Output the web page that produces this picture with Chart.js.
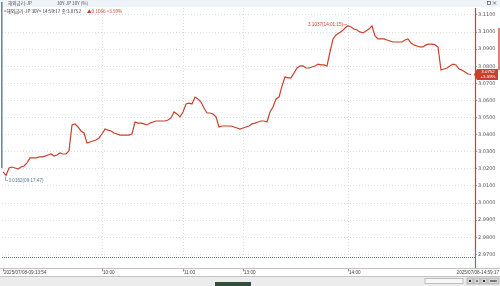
<!DOCTYPE html>
<html>
<head>
<meta charset="utf-8">
<script src="https://cdn.jsdelivr.net/npm/chart.js@4"></script>
<style>
  html, body { margin: 0; padding: 0; background: #fff; }
  #wrap { width: 500px; height: 286px; }
</style>
</head>
<body>
<div id="wrap"><canvas id="chart_box" width="500" height="286"></canvas></div>
<script>
// tick labels on the time axis and where they sit (sample index)
const xTickIdx = [0, 33, 60, 80, 115, 156];
const xTickLabels = ["2025/07/08-09:13:54", "10:00", "11:00", "13:00", "14:00", "2025/07/08-14:59:17"];

// price axis
const yTicks = [2.97, 2.98, 2.99, 3.0, 3.01, 3.02, 3.03, 3.04, 3.05, 3.06, 3.07, 3.08, 3.09, 3.10, 3.11];

// 30Y JGB yield, evenly spaced samples through the session
const yields = [
  3.0182, 3.0162, 3.0205, 3.0211, 3.0205, 3.0199, 3.0211, 3.0217, 3.0235, 3.0264,
  3.0264, 3.0264, 3.0270, 3.0270, 3.0275, 3.0281, 3.0287, 3.0275, 3.0281, 3.0293,
  3.0287, 3.0287, 3.0305, 3.0457, 3.0463, 3.0445, 3.0422, 3.0410, 3.0351, 3.0357,
  3.0363, 3.0369, 3.0381, 3.0404, 3.0433, 3.0427, 3.0422, 3.0410, 3.0404, 3.0398,
  3.0398, 3.0398, 3.0398, 3.0404, 3.0474, 3.0468, 3.0468, 3.0463, 3.0457, 3.0468,
  3.0474, 3.0480, 3.0480, 3.0480, 3.0480, 3.0486, 3.0498, 3.0533, 3.0521, 3.0504,
  3.0533, 3.0580, 3.0585, 3.0580, 3.0620, 3.0609, 3.0591, 3.0556, 3.0527, 3.0527,
  3.0521, 3.0504, 3.0445, 3.0451, 3.0451, 3.0451, 3.0451, 3.0445, 3.0439, 3.0433,
  3.0439, 3.0445, 3.0451, 3.0463, 3.0468, 3.0474, 3.0480, 3.0480, 3.0474, 3.0533,
  3.0562, 3.0609, 3.0620, 3.0685, 3.0737, 3.0732, 3.0732, 3.0761, 3.0790, 3.0802,
  3.0802, 3.0790, 3.0790, 3.0796, 3.0802, 3.0813, 3.0808, 3.0808, 3.0802, 3.0884,
  3.0960, 3.0983, 3.0995, 3.1006, 3.1024, 3.1037, 3.1030, 3.1018, 3.1012, 3.1001,
  3.0995, 3.1006, 3.1018, 3.1036, 3.0977, 3.0960, 3.0960, 3.0960, 3.0954, 3.0948,
  3.0942, 3.0942, 3.0942, 3.0942, 3.0954, 3.0960, 3.0936, 3.0925, 3.0919, 3.0913,
  3.0913, 3.0925, 3.0930, 3.0930, 3.0925, 3.0913, 3.0778, 3.0784, 3.0790, 3.0802,
  3.0813, 3.0808, 3.0784, 3.0778, 3.0767, 3.0755, 3.0752
];

const highText = "3.1037(14:01:15)";
const lowText = "3.0162(09:17:47)";
const title1 = ["해외금리-JP", "30Y-JP 30Y (%)"];
const title2 = ["<해외금리-JP 30Y> 14:59:17 종:3.0752", "▲0.1066 +3.59%"];
const lastBox = ["3.0752", "+3.59%"];

const RED = "#c9412c";
const KR = '"Noto Sans CJK KR", "Noto Sans", sans-serif';

const decor = {
  id: "decor",
  beforeDraw(chart) {
    const c = chart.ctx;
    c.save();
    c.fillStyle = "#fff";
    c.fillRect(0, 0, 500, 286);
    c.fillStyle = "#eef3f8";
    c.fillRect(0, 0, 500, 7);
    c.restore();
  },
  afterDraw(chart) {
    const c = chart.ctx;
    const xs = chart.scales.x;
    const ys = chart.scales.y;
    const area = chart.chartArea;
    c.save();

    // dotted bottom border of the plot
    c.strokeStyle = "#6c7a88";
    c.lineWidth = 1;
    c.setLineDash([1, 1]);
    c.beginPath();
    c.moveTo(area.left, area.bottom + 0.5);
    c.lineTo(area.right, area.bottom + 0.5);
    c.stroke();
    c.setLineDash([]);

    // header
    c.textBaseline = "middle";
    c.font = "4.6px " + KR;
    c.fillStyle = "#555";
    c.fillText(title1[0], 8, 3.5);
    c.fillText(title1[1], 57, 3.5);
    c.fillStyle = "#333";
    c.fillText(title2[0], 4, 11);
    c.fillStyle = RED;
    c.fillText(title2[1], 87, 11);

    // window icons
    c.strokeStyle = "#555";
    c.lineWidth = 0.7;
    c.strokeRect(487.5, 1.5, 3, 3);
    c.beginPath();
    c.moveTo(493, 1.5); c.lineTo(496, 4.5);
    c.moveTo(496, 1.5); c.lineTo(493, 4.5);
    c.stroke();

    // left marker bar
    c.fillStyle = "#6f88a6";
    c.fillRect(1, 2, 1.6, 166);

    // cursor line at the right edge
    c.lineWidth = 1.2;
    c.strokeStyle = RED;
    c.beginPath();
    c.moveTo(area.right + 0.5, area.top);
    c.lineTo(area.right + 0.5, 251);
    c.stroke();
    c.strokeStyle = "#5a78a8";
    c.beginPath();
    c.moveTo(area.right + 0.5, 251);
    c.lineTo(area.right + 0.5, 268);
    c.stroke();

    // clipped red mark on far right
    c.strokeStyle = RED;
    c.lineWidth = 1.3;
    c.beginPath();
    c.moveTo(499, 28);
    c.lineTo(499, 70);
    c.stroke();

    // high / low annotations
    const hiI = yields.indexOf(Math.max(...yields));
    const loI = yields.indexOf(Math.min(...yields));
    const hx = xs.getPixelForValue(hiI), hy = ys.getPixelForValue(yields[hiI]);
    c.font = "4.6px Liberation Sans, sans-serif";
    c.fillStyle = RED;
    c.textAlign = "right";
    c.fillText(highText, hx - 5, hy - 1);
    c.strokeStyle = RED;
    c.lineWidth = 0.6;
    c.beginPath();
    c.moveTo(hx - 4.5, hy - 1);
    c.lineTo(hx - 1, hy - 1);
    c.stroke();

    const lx = xs.getPixelForValue(loI), ly = ys.getPixelForValue(yields[loI]);
    c.strokeStyle = "#5a7896";
    c.beginPath();
    c.moveTo(lx - 0.5, ly + 1);
    c.lineTo(lx - 0.5, ly + 5);
    c.lineTo(lx + 2, ly + 5);
    c.stroke();
    c.fillStyle = "#5a7896";
    c.textAlign = "left";
    c.fillText(lowText, lx + 2.5, ly + 5);

    // last price box
    const py = ys.getPixelForValue(yields[yields.length - 1]);
    c.fillStyle = RED;
    c.beginPath();
    c.moveTo(area.right - 1, py);
    c.lineTo(area.right + 2, py - 5.5);
    c.lineTo(498, py - 5.5);
    c.lineTo(498, py + 5.5);
    c.lineTo(area.right + 2, py + 5.5);
    c.closePath();
    c.fill();
    c.fillStyle = "#fff";
    c.font = "4.4px Liberation Sans, sans-serif";
    c.textAlign = "center";
    c.fillText(lastBox[0], 488, py - 2.6);
    c.fillText(lastBox[1], 488, py + 2.6);

    // time axis row
    c.strokeStyle = "#b4b4b4";
    c.lineWidth = 0.8;
    c.beginPath();
    c.moveTo(0, 268.5); c.lineTo(500, 268.5);
    c.moveTo(0, 276.5); c.lineTo(500, 276.5);
    c.stroke();
    c.font = "4.6px Liberation Sans, sans-serif";
    c.fillStyle = "#444";
    c.strokeStyle = "#777";
    for (let i = 0; i < xTickIdx.length; i++) {
      const px = xs.getPixelForValue(xTickIdx[i]);
      if (i === xTickIdx.length - 1) {
        c.textAlign = "right";
        c.fillText(xTickLabels[i], 499, 272.5);
      } else {
        c.textAlign = "left";
        c.fillText(xTickLabels[i], Math.max(px, 3) + 1, 272.5);
        c.beginPath();
        c.moveTo(Math.max(px, 2) + 0.5, 269);
        c.lineTo(Math.max(px, 2) + 0.5, 271.5);
        c.stroke();
      }
    }

    // scroll bar
    c.fillStyle = "#ececec";
    c.fillRect(0, 277, 500, 9);
    c.fillStyle = "#2f4f3d";
    c.fillRect(215, 282, 36, 4);
    c.fillStyle = "#f7f7f7";
    c.strokeStyle = "#9a9a9a";
    c.lineWidth = 0.6;
    c.fillRect(425, 278.5, 38, 5);
    c.strokeRect(425, 278.5, 38, 5);
    const btnX = [467, 474, 481];
    c.fillStyle = "#d8d8d8";
    btnX.forEach(function (bx) {
      c.fillRect(bx, 278, 6, 6);
      c.strokeRect(bx, 278, 6, 6);
    });
    c.fillStyle = "#333";
    c.fillRect(469, 280, 2, 2);
    c.fillRect(476, 280.5, 2, 1);
    c.fillRect(483, 280, 2, 2);
    c.fillStyle = "#d8d8d8";
    c.fillRect(488, 278, 11, 6);
    c.strokeRect(488, 278, 11, 6);
    c.fillStyle = "#222";
    c.font = "bold 3.5px Liberation Sans, sans-serif";
    c.textAlign = "center";
    c.fillText("max", 493.5, 281.2);

    c.restore();
  }
};

new Chart(document.getElementById("chart_box"), {
  type: "line",
  data: {
    datasets: [
      {
        label: "30Y-JP",
        data: yields.map(function (v, i) { return { x: i, y: v }; }),
        borderColor: RED,
        borderWidth: 1.2,
        pointRadius: 0,
        tension: 0,
      },
    ],
  },
  options: {
    responsive: false,
    animation: false,
    layout: { padding: { left: 2, top: 8, right: 0, bottom: 0 } },
    plugins: {
      legend: { display: false },
      tooltip: { enabled: false },
    },
    scales: {
      x: {
        type: "linear",
        min: -1 / 3,
        max: 157.333,
        afterBuildTicks: function (scale) {
          scale.ticks = xTickIdx.slice(1, -1).map(function (v) { return { value: v }; });
        },
        afterFit: function (scale) { scale.height = 29; },
        ticks: { display: false },
        grid: { color: "#d6d6d6", lineWidth: 0.8, drawTicks: false },
        border: { display: false, dash: [1, 2] },
      },
      y: {
        position: "right",
        min: 2.96848,
        max: 3.11409,
        afterBuildTicks: function (scale) {
          scale.ticks = yTicks.map(function (v) { return { value: v }; });
        },
        afterFit: function (scale) { scale.width = 25; },
        ticks: {
          padding: 1,
          color: "#555",
          font: { size: 5, family: "DejaVu Sans" },
          callback: function (v) { return Number(v).toFixed(4); },
        },
        grid: { color: "#d6d6d6", lineWidth: 0.8, tickLength: 2, tickColor: "#888" },
        border: { display: false, dash: [1, 2] },
      },
    },
  },
  plugins: [decor],
});
</script>
</body>
</html>
